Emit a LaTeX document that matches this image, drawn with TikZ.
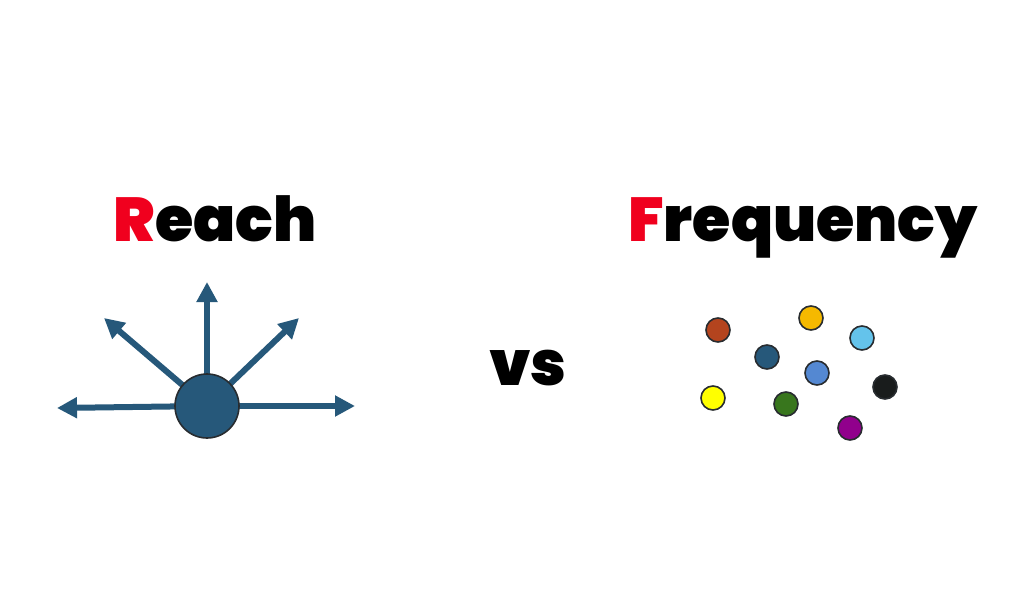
\documentclass[tikz,border=0pt]{standalone}
\usepackage{fontspec}
\usepackage{xcolor}
\usetikzlibrary{arrows.meta}
\newfontfamily\headfont{Poppins Black}
\definecolor{hubblue}{RGB}{38,88,122}
\definecolor{hotred}{RGB}{240,0,30}
\definecolor{rim}{RGB}{40,44,48}

\begin{document}
\begin{tikzpicture}[x=0.5pt,y=-0.5pt,>={Triangle[length=10pt,width=10pt]},
  title/.style={font=\headfont\fontsize{31}{36}\selectfont,anchor=base},
  spoke/.style={->,draw=hubblue,fill=hubblue,line width=3pt},
  dot/.style={circle,draw=rim,line width=0.8pt,minimum size=12pt,inner sep=0pt}]
  \useasboundingbox (0,0) rectangle (1024,590);
  % headings
  \node[title] (reach) at (215,241) {\textcolor{hotred}{R}each};
  \node[title] (freq) at (803,241) {\textcolor{hotred}{F}requency};
  \node[title] (vs) at (528,385) {vs};
  % reach: hub with spokes
  \coordinate (up) at (207,282);
  \coordinate (ul) at (104,318);
  \coordinate (ur) at (299,318);
  \coordinate (lt) at (57,408);
  \coordinate (rt) at (355,406);
  \foreach \e in {up,ul,ur,lt,rt}
    \draw[spoke] (207,406) -- (\e);
  \node[circle,fill=hubblue,draw=rim,line width=0.8pt,minimum size=32pt] (hub) at (207,406) {};
  % frequency: scattered dots
  \node[dot,fill={rgb,255:red,180;green,68;blue,30}] (d1) at (718,330) {};
  \node[dot,fill={rgb,255:red,245;green,185;blue,0}] (d2) at (811,318) {};
  \node[dot,fill={rgb,255:red,100;green,195;blue,235}] (d3) at (862,338) {};
  \node[dot,fill=hubblue] (d4) at (767,357) {};
  \node[dot,fill={rgb,255:red,84;green,136;blue,210}] (d5) at (817,373) {};
  \node[dot,fill={rgb,255:red,25;green,28;blue,28}] (d6) at (885,387) {};
  \node[dot,fill={rgb,255:red,255;green,255;blue,0}] (d7) at (713,398) {};
  \node[dot,fill={rgb,255:red,56;green,118;blue,29}] (d8) at (786,404) {};
  \node[dot,fill={rgb,255:red,145;green,0;blue,140}] (d9) at (850,428) {};
\end{tikzpicture}
\end{document}
